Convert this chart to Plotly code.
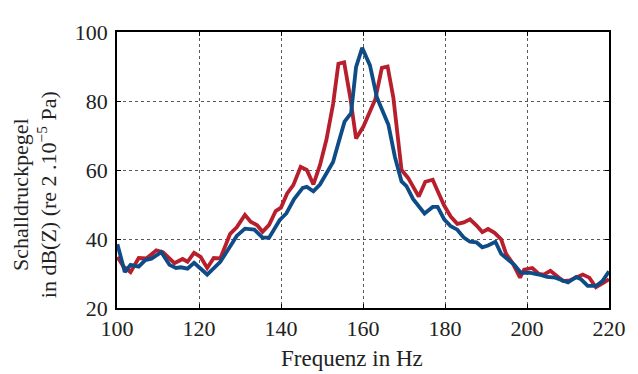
import plotly.graph_objects as go

# Blue series (frequency in Hz, level in dB)
blue_hz = [100.1, 101.9, 103.3, 105.3, 106.9, 108.4, 110.8, 112.8, 114.4, 115.6,
           117.2, 118.8, 122.0, 125.2, 127.2, 129.2, 131.2, 133.5, 135.5, 137.1,
           139.7, 141.3, 143.2, 145.3, 146.3, 147.9, 149.5, 151.1, 152.7, 153.9,
           155.5, 157.1, 158.3, 159.8, 161.7, 163.4, 164.6, 166.2, 167.8, 169.4,
           170.6, 172.2, 175.0, 177.0, 178.2, 179.8, 181.4, 183.0, 184.6, 186.1,
           187.7, 189.1, 190.5, 192.3, 193.7, 195.3, 196.9, 198.5, 200.9, 202.9,
           204.9, 206.9, 208.5, 210.0, 212.0, 213.2, 214.8, 216.8, 218.4, 220.0]
blue_db = [38.5, 30.4, 32.5, 32.0, 33.9, 34.3, 36.2, 32.5, 31.6, 31.8,
           31.4, 33.1, 29.7, 33.4, 37.1, 40.9, 43.0, 42.7, 40.4, 40.4,
           45.5, 47.4, 51.6, 54.8, 55.1, 53.8, 55.8, 59.1, 62.3, 67.4,
           74.0, 76.5, 89.8, 95.4, 90.3, 81.0, 77.7, 73.1, 63.7, 56.7,
           55.3, 51.6, 47.4, 49.3, 49.3, 45.7, 43.7, 42.7, 40.4, 39.2,
           39.0, 37.6, 38.1, 39.2, 35.7, 34.2, 32.5, 30.2, 30.2, 29.7,
           29.0, 28.8, 28.0, 27.4, 29.0, 28.3, 26.4, 26.4, 27.8, 30.6]

# Red series
red_hz = [100.1, 101.6, 103.3, 105.3, 107.2, 109.6, 111.2, 114.0, 116.0, 117.2,
          118.8, 120.4, 122.0, 123.6, 125.2, 127.6, 129.2, 131.2, 132.6, 134.2,
          135.5, 137.1, 138.7, 140.0, 141.5, 143.0, 144.8, 146.3, 147.9, 149.5,
          151.1, 152.7, 154.0, 155.4, 156.9, 158.3, 160.1, 161.7, 163.0, 164.6,
          166.0, 167.4, 169.4, 171.0, 173.6, 175.2, 177.0, 178.2, 179.8, 181.4,
          183.0, 184.6, 186.1, 187.7, 189.1, 190.5, 192.1, 193.7, 194.9, 196.5,
          198.3, 199.3, 201.3, 202.9, 204.1, 205.7, 207.3, 208.8, 210.4, 212.0,
          213.6, 215.2, 216.8, 218.8, 220.0]
red_db = [34.8, 32.0, 30.4, 34.5, 34.4, 36.7, 36.2, 33.0, 34.2, 33.4,
          36.0, 34.8, 31.6, 34.5, 34.4, 41.5, 43.4, 47.0, 45.0, 44.0,
          42.1, 44.1, 48.1, 49.1, 53.2, 55.6, 60.9, 60.0, 55.8, 61.4,
          68.9, 79.1, 90.8, 91.2, 81.0, 69.1, 72.6, 77.3, 80.5, 89.6,
          90.0, 81.0, 60.0, 57.7, 52.3, 56.6, 57.2, 53.9, 49.7, 46.5,
          44.4, 44.8, 45.7, 43.9, 42.0, 42.9, 41.8, 39.9, 35.7, 33.0,
          28.8, 31.1, 31.6, 29.9, 29.7, 30.8, 29.2, 27.8, 28.0, 28.8,
          29.7, 28.8, 26.0, 27.4, 28.3]

x_ticks = [100, 120, 140, 160, 180, 200, 220]
y_ticks = [20, 40, 60, 80, 100]

x_title = "Frequenz in Hz"
y_title = "Schalldruckpegel<br>in dB(Z) (re 2 .10<sup>−5</sup> Pa)"

FONT = "Liberation Serif, Times New Roman, Times, serif"
TXT = "#222"

fig = go.Figure()
fig.add_trace(go.Scatter(x=red_hz, y=red_db, mode="lines",
                         line=dict(color="#b81f2d", width=3.8), showlegend=False))
fig.add_trace(go.Scatter(x=blue_hz, y=blue_db, mode="lines",
                         line=dict(color="#0d4c86", width=3.8), showlegend=False))

axis_common = dict(
    showline=True, linecolor="black", linewidth=1.5, mirror="ticks",
    ticks="inside", ticklen=4, tickcolor="black", tickwidth=1,
    showgrid=True, gridcolor="#5a5a5a", gridwidth=1, griddash="dot",
    zeroline=False,
    tickfont=dict(family=FONT, size=22, color=TXT),
)

fig.update_xaxes(range=[100, 220], tickvals=x_ticks,
                 ticktext=[str(v) for v in x_ticks], **axis_common)
fig.update_yaxes(range=[20, 100], tickvals=y_ticks,
                 ticktext=[str(v) for v in y_ticks], ticklabelstandoff=3,
                 **axis_common)

fig.add_annotation(text=x_title, xref="paper", yref="paper",
                   x=0.478, y=-0.182, xanchor="center", yanchor="middle",
                   showarrow=False, font=dict(family=FONT, size=23, color=TXT))
fig.add_annotation(text=y_title, xref="paper", yref="paper",
                   x=-0.168, y=0.41, xanchor="center", yanchor="middle",
                   textangle=-90, showarrow=False,
                   font=dict(family=FONT, size=22, color=TXT))

fig.update_layout(
    width=630, height=366,
    margin=dict(l=109, r=18, t=14, b=66),
    paper_bgcolor="white", plot_bgcolor="white",
    font=dict(family=FONT, size=22, color=TXT),
)

fig.write_html("out.html")
